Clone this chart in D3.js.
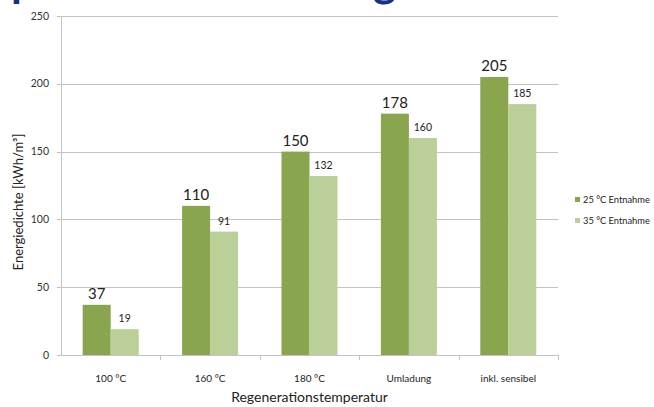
<!DOCTYPE html>
<html>
<head>
<meta charset="utf-8">
<script src="https://cdn.jsdelivr.net/npm/d3@7"></script>
<style>
  body { margin: 0; background: #fff; }
  svg { display: block; font-family: Lato, "Open Sans", sans-serif; }
</style>
</head>
<body>
<div id="chart"></div>
<script>
// chart data
const categories = ["100 °C", "160 °C", "180 °C", "Umladung", "inkl. sensibel"];
const seriesNames = ["25 °C Entnahme", "35 °C Entnahme"];
const values25 = [37, 110, 150, 178, 205];
const values35 = [19, 91, 132, 160, 185];
const yTicks = [0, 50, 100, 150, 200, 250];

const width = 654, height = 407;
const margin = {top: 16, right: 96, bottom: 52, left: 61};
const colors = ["#89a54e", "#bbcf98"];

const svg = d3.select("#chart")
  .append("svg")
  .attr("width", width)
  .attr("height", height);

// title of the slide, mostly cut off at the top edge
svg.append("text")
  .attr("x", 11).attr("y", -3)
  .attr("fill", "#17327f")
  .style("font-size", "44px").style("font-weight", "bold")
  .text("p");
svg.append("text")
  .attr("x", 373).attr("y", -3)
  .attr("fill", "#17327f")
  .style("font-size", "44px").style("font-weight", "bold")
  .text("g");

const x0 = d3.scaleBand()
  .domain(categories)
  .range([margin.left, width - margin.right])
  .padding(0);

const barW = 28;
const x1 = d3.scaleBand()
  .domain(seriesNames)
  .range([x0.bandwidth() / 2 - barW, x0.bandwidth() / 2 + barW])
  .padding(0);

const y = d3.scaleLinear()
  .domain([0, 250])
  .range([height - margin.bottom, margin.top]);

// gridlines
svg.append("g")
  .selectAll("line")
  .data(yTicks)
  .join("line")
  .attr("x1", margin.left - 4)
  .attr("x2", width - margin.right)
  .attr("y1", d => Math.round(y(d)) + 0.5)
  .attr("y2", d => Math.round(y(d)) + 0.5)
  .attr("stroke", "#c3c3c3")
  .attr("stroke-width", 1);

// y tick labels
svg.append("g")
  .selectAll("text")
  .data(yTicks)
  .join("text")
  .attr("x", margin.left - 12)
  .attr("y", d => y(d))
  .attr("dy", "0.35em")
  .attr("text-anchor", "end")
  .attr("fill", "#333")
  .style("font-size", "10.5px")
  .text(d => d);

// y axis line
svg.append("line")
  .attr("x1", margin.left + 0.5).attr("x2", margin.left + 0.5)
  .attr("y1", y(250)).attr("y2", y(0))
  .attr("stroke", "#c3c3c3");

// x axis ticks between categories
const xTicks = categories.map(c => x0(c) + x0.bandwidth());
svg.append("g")
  .selectAll("line")
  .data(xTicks)
  .join("line")
  .attr("x1", d => Math.round(d) + 0.5)
  .attr("x2", d => Math.round(d) + 0.5)
  .attr("y1", y(0))
  .attr("y2", y(0) + 5)
  .attr("stroke", "#c3c3c3");

// bars
const groups = svg.append("g")
  .selectAll("g")
  .data(categories)
  .join("g")
  .attr("transform", d => `translate(${x0(d)},0)`);

groups.selectAll("rect")
  .data((d, i) => [values25[i], values35[i]].map((v, j) => ({v, s: seriesNames[j], j})))
  .join("rect")
  .attr("x", d => x1(d.s))
  .attr("y", d => y(d.v))
  .attr("width", barW)
  .attr("height", d => y(0) - y(d.v))
  .attr("fill", d => colors[d.j]);

// value labels
groups.selectAll("text")
  .data((d, i) => [values25[i], values35[i]].map((v, j) => ({v, s: seriesNames[j], j})))
  .join("text")
  .attr("x", d => x1(d.s) + barW / 2)
  .attr("y", d => y(d.v) - (d.j === 0 ? 6 : 7))
  .attr("text-anchor", "middle")
  .attr("fill", "#222")
  .style("font-size", d => d.j === 0 ? "15px" : "10.5px")
  .text(d => d.v);

// category labels
svg.append("g")
  .selectAll("text")
  .data(categories)
  .join("text")
  .attr("x", d => x0(d) + x0.bandwidth() / 2)
  .attr("y", y(0) + 23)
  .attr("dy", "0.35em")
  .attr("text-anchor", "middle")
  .attr("fill", "#222")
  .style("font-size", "10px")
  .text(d => d);

// axis titles
svg.append("text")
  .attr("x", (margin.left + width - margin.right) / 2)
  .attr("y", 397)
  .attr("dy", "0.35em")
  .attr("text-anchor", "middle")
  .attr("fill", "#222")
  .style("font-size", "14px")
  .text("Regenerationstemperatur");

svg.append("text")
  .attr("transform", "translate(18,202) rotate(-90)")
  .attr("dy", "0.35em")
  .attr("text-anchor", "middle")
  .attr("fill", "#222")
  .style("font-size", "13px")
  .text("Energiedichte [kWh/m³]");

// legend
const legend = svg.append("g")
  .selectAll("g")
  .data(seriesNames)
  .join("g")
  .attr("transform", (d, i) => `translate(575,${200 + i * 21})`);

legend.append("rect")
  .attr("x", 0).attr("y", -3)
  .attr("width", 5).attr("height", 5)
  .attr("fill", (d, i) => colors[i]);

legend.append("text")
  .attr("x", 8)
  .attr("y", 0)
  .attr("dy", "0.35em")
  .attr("fill", "#222")
  .style("font-size", "9.3px")
  .text(d => d);
</script>
</body>
</html>
